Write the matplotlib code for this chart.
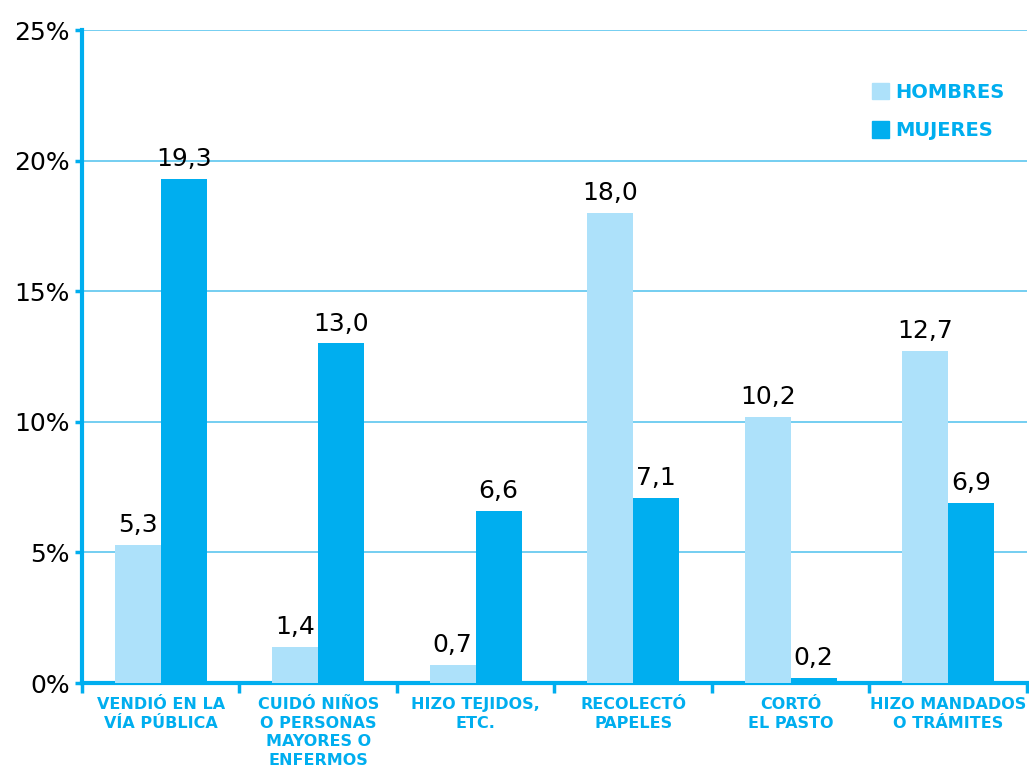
import matplotlib.pyplot as plt
from matplotlib.patches import Patch
import numpy as np

categories = ['VENDIÓ EN LA\nVÍA PÚBLICA',
              'CUIDÓ NIÑOS\nO PERSONAS\nMAYORES O\nENFERMOS',
              'HIZO TEJIDOS,\nETC.',
              'RECOLECTÓ\nPAPELES',
              'CORTÓ\nEL PASTO',
              'HIZO MANDADOS\nO TRÁMITES']
hombres = [5.3, 1.4, 0.7, 18.0, 10.2, 12.7]
mujeres = [19.3, 13.0, 6.6, 7.1, 0.2, 6.9]
yticks = [0, 5, 10, 15, 20, 25]

light = '#ade1fa'
dark = '#00aeef'
grid = '#5cc6ef'

fig = plt.figure(figsize=(10.29, 7.78), dpi=100)
ax = fig.add_axes([0.0797, 0.122, 0.9183, 0.8394])

x = np.arange(len(categories))
w = 0.292
ax.bar(x - w / 2, hombres, w, color=light, zorder=3)
ax.bar(x + w / 2, mujeres, w, color=dark, zorder=3)

for xi, v in zip(x - w / 2, hombres):
    ax.text(xi, v + 0.3, f'{v:.1f}'.replace('.', ','), ha='center', va='bottom',
            fontsize=18, color='black')
for xi, v in zip(x + w / 2, mujeres):
    ax.text(xi, v + 0.3, f'{v:.1f}'.replace('.', ','), ha='center', va='bottom',
            fontsize=18, color='black')

ax.set_xlim(-0.5, len(categories) - 0.5)
ax.set_ylim(0, 25)
ax.set_yticks(yticks)
ax.set_yticklabels([f'{t}%' for t in yticks], fontsize=18, color='black')
ax.yaxis.grid(True, color=grid, linewidth=1.2, zorder=0)

ax.set_xticks(np.arange(-0.5, len(categories), 1.0))
ax.set_xticklabels([])
ax.set_xticks(x, minor=True)
ax.set_xticklabels(categories, minor=True, fontsize=11.5, fontweight='bold',
                   color=dark, linespacing=1.3, va='top')
ax.tick_params(axis='x', which='minor', length=0, pad=10)
ax.tick_params(axis='x', which='major', length=7, width=2.5, color=dark, direction='out')
ax.tick_params(axis='y', length=5, width=2.5, color=dark, pad=4)

for s in ['top', 'right']:
    ax.spines[s].set_visible(False)
for s in ['left', 'bottom']:
    ax.spines[s].set_color(dark)
    ax.spines[s].set_linewidth(3)

handles = [Patch(color=light, label='HOMBRES'), Patch(color=dark, label='MUJERES')]
leg = ax.legend(handles=handles, loc='upper left', bbox_to_anchor=(0.817, 0.946),
                frameon=False, handlelength=0.9, handleheight=0.9, handletextpad=0.3,
                labelspacing=1.0, prop={'size': 14, 'weight': 'bold'})
for t in leg.get_texts():
    t.set_color(dark)

fig.savefig('out.png', dpi=100)
